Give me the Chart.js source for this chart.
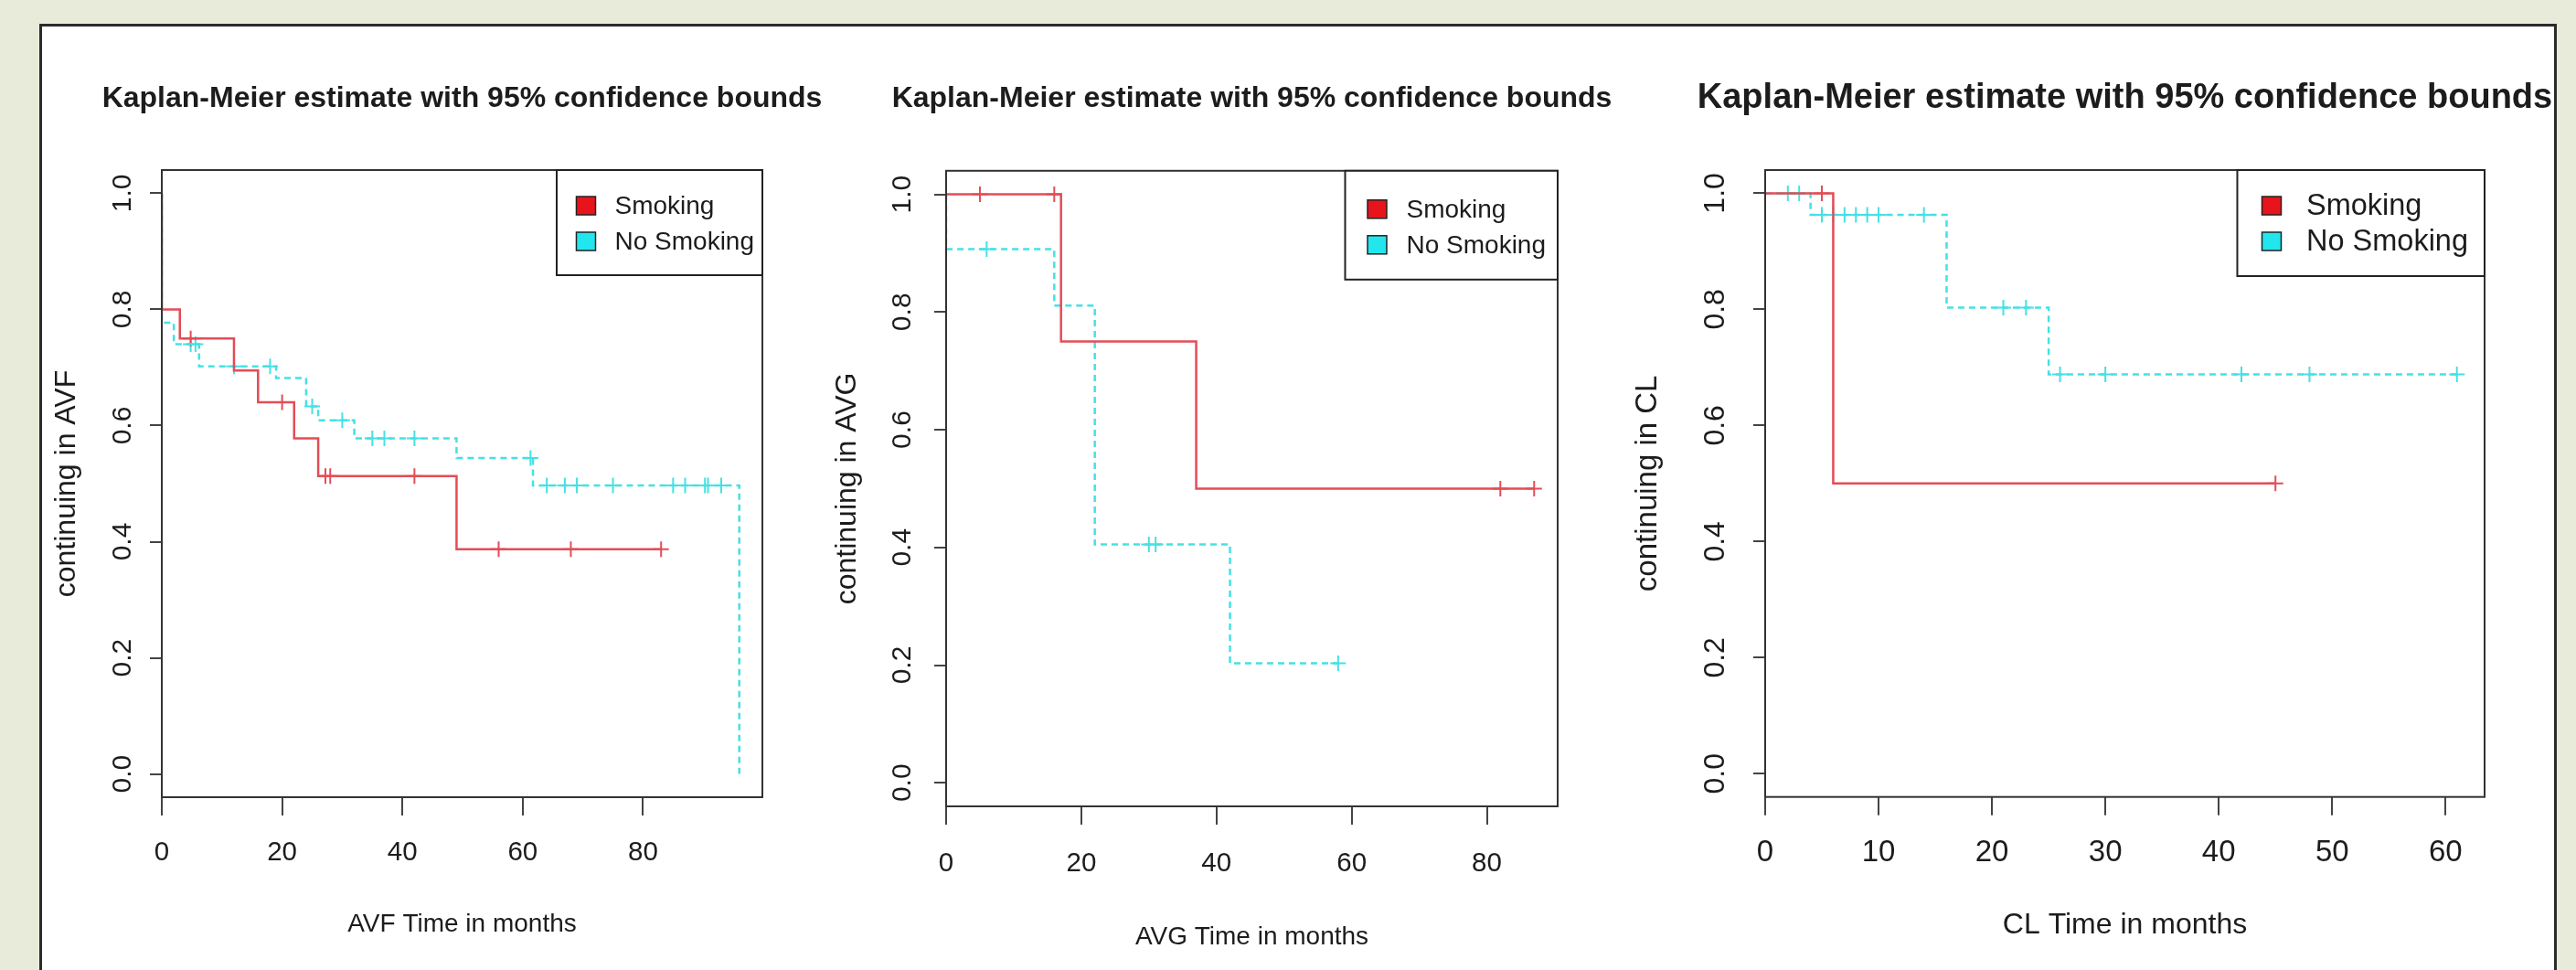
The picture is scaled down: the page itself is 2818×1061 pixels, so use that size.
<!DOCTYPE html>
<html>
<head>
<meta charset="utf-8">
<title>Kaplan-Meier estimates</title>
<script src="https://cdn.jsdelivr.net/npm/chart.js"></script>
<style>
  html, body { margin: 0; padding: 0; }
  body { width: 2818px; height: 1061px; overflow: hidden; background: #e8ebd9; position: relative; }
  #sheet { position: absolute; left: 43px; top: 26px; width: 2748px; height: 1100px; background: #fff; border: 3px solid #2b2b2b; }
  canvas { position: absolute; top: 0; }
</style>
</head>
<body>
<div id="sheet"></div>
<canvas id="chartAVF"></canvas>
<canvas id="chartAVG"></canvas>
<canvas id="chartCL"></canvas>
<script>
'use strict';

// ---- data ----
const seriesNames = ['Smoking', 'No Smoking'];
const chartTitle = 'Kaplan-Meier estimate with 95% confidence bounds';

// AVF panel
const avfSmokingTime = [0, 0, 3, 12, 16, 22, 26, 49, 83];
const avfSmokingSurv = [1, 0.80, 0.75, 0.695, 0.64, 0.578, 0.513, 0.387, 0.387];
const avfSmokingCensor = [4.8, 20, 27.2, 28, 42, 56, 68, 83];
const avfNoSmokingTime = [0, 0, 2, 6.2, 19, 24, 26, 32, 49, 61.7, 96];
const avfNoSmokingSurv = [1, 0.777, 0.740, 0.702, 0.682, 0.633, 0.609, 0.578, 0.544, 0.497, 0];
const avfNoSmokingCensor = [4.8, 5.6, 12, 18, 25, 30, 35, 37, 42, 61.3, 64, 67, 69, 75, 85, 87, 90.3, 90.8, 93];
const avfXTicks = [0, 20, 40, 60, 80];

// AVG panel
const avgSmokingTime = [0, 17, 37, 87];
const avgSmokingSurv = [1, 0.75, 0.5, 0.5];
const avgSmokingCensor = [5, 16, 82, 87];
const avgNoSmokingTime = [0, 0, 16, 22, 42, 58];
const avgNoSmokingSurv = [1, 0.907, 0.811, 0.405, 0.203, 0.203];
const avgNoSmokingCensor = [6, 30, 31, 58];
const avgXTicks = [0, 20, 40, 60, 80];

// CL panel
const clSmokingTime = [0, 6, 45];
const clSmokingSurv = [1, 0.5, 0.5];
const clSmokingCensor = [5, 45];
const clNoSmokingTime = [0, 4, 16, 25, 61];
const clNoSmokingSurv = [1, 0.963, 0.803, 0.688, 0.688];
const clNoSmokingCensor = [2, 3, 5, 6, 7, 8, 9, 10, 14, 21, 23, 26, 30, 42, 48, 61];
const clXTicks = [0, 10, 20, 30, 40, 50, 60];

const yTicks = [0, 0.2, 0.4, 0.6, 0.8, 1.0];
const yTickLabels = ['0.0', '0.2', '0.4', '0.6', '0.8', '1.0'];

// ---- look ----
const FONT = '"Liberation Sans", Arial, Helvetica, sans-serif';
const RED = '#e44c56';
const CYAN = '#45e1e3';
const RED_FILL = '#e8141c';
const CYAN_FILL = '#22e6ee';
const INK = '#1c1c1c';

// step curve -> chart points
function curvePoints(time, surv) {
  return time.map((t, i) => ({x: t, y: surv[i]}));
}
// censor marks sit on the curve at their time
function censorPoints(time, surv, cens) {
  return cens.map(c => {
    let s = surv[0];
    for (let i = 0; i < time.length; i++) {
      if (time[i] <= c) s = surv[i];
    }
    return {x: c, y: s};
  });
}

// box round the plotting region, like R's frame
const framePlugin = {
  id: 'frame',
  afterDatasetsDraw(chart) {
    const {ctx, chartArea: a} = chart;
    ctx.save();
    ctx.strokeStyle = '#333';
    ctx.lineWidth = 2;
    ctx.strokeRect(a.left, a.top, a.right - a.left, a.bottom - a.top);
    ctx.restore();
  }
};

// R style legend box in the top right corner
const kmLegendPlugin = {
  id: 'kmLegend',
  afterDraw(chart, args, opts) {
    const {ctx, chartArea: a} = chart;
    const items = chart.data.datasets.filter(d => d.legendFill);
    ctx.save();
    ctx.font = opts.fontSize + 'px ' + FONT;
    const textW = Math.max(...items.map(d => ctx.measureText(d.label).width));
    const w = opts.textX + textW + opts.rightPad;
    const x0 = a.right - w;
    const y0 = a.top;
    ctx.fillStyle = '#fff';
    ctx.fillRect(x0, y0, w, opts.height);
    ctx.strokeStyle = '#222';
    ctx.lineWidth = 2;
    ctx.strokeRect(x0, y0, w, opts.height);
    items.forEach((d, i) => {
      const cy = y0 + opts.row1 + i * opts.rowGap;
      const cx = x0 + opts.squareX;
      ctx.fillStyle = d.legendFill;
      ctx.fillRect(cx - 10.5, cy - 10, 21, 20);
      ctx.lineWidth = 1.5;
      ctx.strokeStyle = '#222';
      ctx.strokeRect(cx - 10.5, cy - 10, 21, 20);
      ctx.fillStyle = INK;
      ctx.textAlign = 'left';
      ctx.textBaseline = 'middle';
      ctx.fillText(d.label, x0 + opts.textX, cy + 1);
    });
    ctx.restore();
  }
};

function makeChart(id, p) {
  const canvas = document.getElementById(id);
  canvas.width = p.width;
  canvas.height = 1061;
  canvas.style.left = p.left + 'px';
  canvas.style.width = p.width + 'px';
  canvas.style.height = '1061px';

  const datasets = [
    {label: seriesNames[0], data: curvePoints(p.smoke[0], p.smoke[1]), borderColor: RED,
      borderWidth: 2.5, stepped: true, pointRadius: 0, fill: false, legendFill: RED_FILL},
    {label: seriesNames[1], data: curvePoints(p.noSmoke[0], p.noSmoke[1]), borderColor: CYAN,
      borderWidth: 2.5, borderDash: [7, 5], stepped: true, pointRadius: 0, fill: false, legendFill: CYAN_FILL},
    {label: seriesNames[0] + ' censored', data: censorPoints(p.smoke[0], p.smoke[1], p.smoke[2]),
      showLine: false, pointStyle: 'cross', pointRadius: 8.5, pointBorderWidth: 2,
      borderColor: RED, pointBorderColor: RED},
    {label: seriesNames[1] + ' censored', data: censorPoints(p.noSmoke[0], p.noSmoke[1], p.noSmoke[2]),
      showLine: false, pointStyle: 'cross', pointRadius: 8.5, pointBorderWidth: 2,
      borderColor: CYAN, pointBorderColor: CYAN}
  ];

  return new Chart(canvas, {
    type: 'line',
    data: {datasets: datasets},
    plugins: [framePlugin, kmLegendPlugin],
    options: {
      responsive: false,
      animation: false,
      events: [],
      layout: {padding: 0},
      plugins: {
        legend: {display: false},
        tooltip: {enabled: false},
        title: {
          display: true,
          text: chartTitle,
          color: INK,
          font: {family: FONT, size: p.titleSize, weight: 'bold', lineHeight: 1.2},
          padding: {top: p.titlePadTop, bottom: p.titlePadBottom}
        },
        kmLegend: p.legend
      },
      scales: {
        x: {
          type: 'linear',
          position: 'bottom',
          min: 0,
          max: p.xMax,
          afterBuildTicks: s => { s.ticks = p.xTicks.map(v => ({value: v})); },
          afterFit: s => { s.height = p.xHeight; },
          border: {display: false},
          grid: {drawOnChartArea: false, drawTicks: true, tickLength: 20, color: '#444', lineWidth: 2},
          ticks: {
            autoSkip: false, maxRotation: 0, color: INK, padding: p.xTickPad,
            font: {family: FONT, size: p.xTickSize},
            callback: (v, i) => String(p.xTicks[i])
          },
          title: {
            display: true, text: p.xTitle, color: INK,
            font: {family: FONT, size: p.xTitleSize},
            padding: {top: 0, bottom: p.xTitlePad}
          }
        },
        y: {
          type: 'linear',
          position: 'left',
          min: -0.04,
          max: 1.04,
          afterBuildTicks: s => { s.ticks = yTicks.map(v => ({value: v})); },
          afterFit: s => { s.width = p.yWidth; },
          border: {display: false},
          grid: {drawOnChartArea: false, drawTicks: true, tickLength: 13, color: '#444', lineWidth: 2},
          ticks: {
            autoSkip: false, minRotation: 90, maxRotation: 90, crossAlign: 'center',
            color: INK, padding: p.yTickPad,
            font: {family: FONT, size: p.yTickSize},
            callback: (v, i) => yTickLabels[i]
          },
          title: {
            display: true, text: p.yTitle, color: INK,
            font: {family: FONT, size: p.yTitleSize},
            padding: {top: p.yTitlePad, bottom: 0}
          }
        },
        // empty right-hand strip so the title is centred over the plot
        yRight: {
          type: 'linear',
          position: 'right',
          display: true,
          afterFit: s => { s.width = p.yWidth; },
          border: {display: false},
          grid: {display: false},
          ticks: {display: false}
        }
      }
    }
  });
}

makeChart('chartAVF', {
  left: 45, width: 921, yWidth: 132, xHeight: 189, xMax: 96 * 1.04,
  smoke: [avfSmokingTime, avfSmokingSurv, avfSmokingCensor],
  noSmoke: [avfNoSmokingTime, avfNoSmokingSurv, avfNoSmokingCensor],
  xTicks: avfXTicks,
  titleSize: 32, titlePadTop: 89, titlePadBottom: 58.6,
  xTitle: 'AVF Time in months', xTickSize: 29.5, xTickPad: 23, xTitleSize: 28, xTitlePad: 32.5,
  yTitle: 'continuing in AVF', yTickSize: 30, yTickPad: 8, yTitleSize: 32, yTitlePad: 8.5,
  legend: {fontSize: 28, squareX: 32, textX: 63.5, row1: 39, rowGap: 39, height: 115, rightPad: 9}
});

makeChart('chartAVG', {
  left: 905, width: 929, yWidth: 130, xHeight: 179, xMax: 87 * 1.04,
  smoke: [avgSmokingTime, avgSmokingSurv, avgSmokingCensor],
  noSmoke: [avgNoSmokingTime, avgNoSmokingSurv, avgNoSmokingCensor],
  xTicks: avgXTicks,
  titleSize: 32, titlePadTop: 89, titlePadBottom: 59.4,
  xTitle: 'AVG Time in months', xTickSize: 29.5, xTickPad: 25, xTitleSize: 28, xTitlePad: 19,
  yTitle: 'continuing in AVG', yTickSize: 30, yTickPad: 13.5, yTitleSize: 32, yTitlePad: 3,
  legend: {fontSize: 28, squareX: 35, textX: 67, row1: 42, rowGap: 39, height: 119, rightPad: 13}
});

makeChart('chartCL', {
  left: 1780, width: 1089, yWidth: 151, xHeight: 189.3, xMax: 61 * 1.04,
  smoke: [clSmokingTime, clSmokingSurv, clSmokingCensor],
  noSmoke: [clNoSmokingTime, clNoSmokingSurv, clNoSmokingCensor],
  xTicks: clXTicks,
  titleSize: 38, titlePadTop: 85.2, titlePadBottom: 55.2,
  xTitle: 'CL Time in months', xTickSize: 33, xTickPad: 21, xTitleSize: 32, xTitlePad: 30,
  yTitle: 'continuing in CL', yTickSize: 32, yTickPad: 18.5, yTitleSize: 33, yTitlePad: 3,
  legend: {fontSize: 32.5, squareX: 37.5, textX: 75.5, row1: 39, rowGap: 39, height: 116, rightPad: 18}
});
</script>
</body>
</html>
